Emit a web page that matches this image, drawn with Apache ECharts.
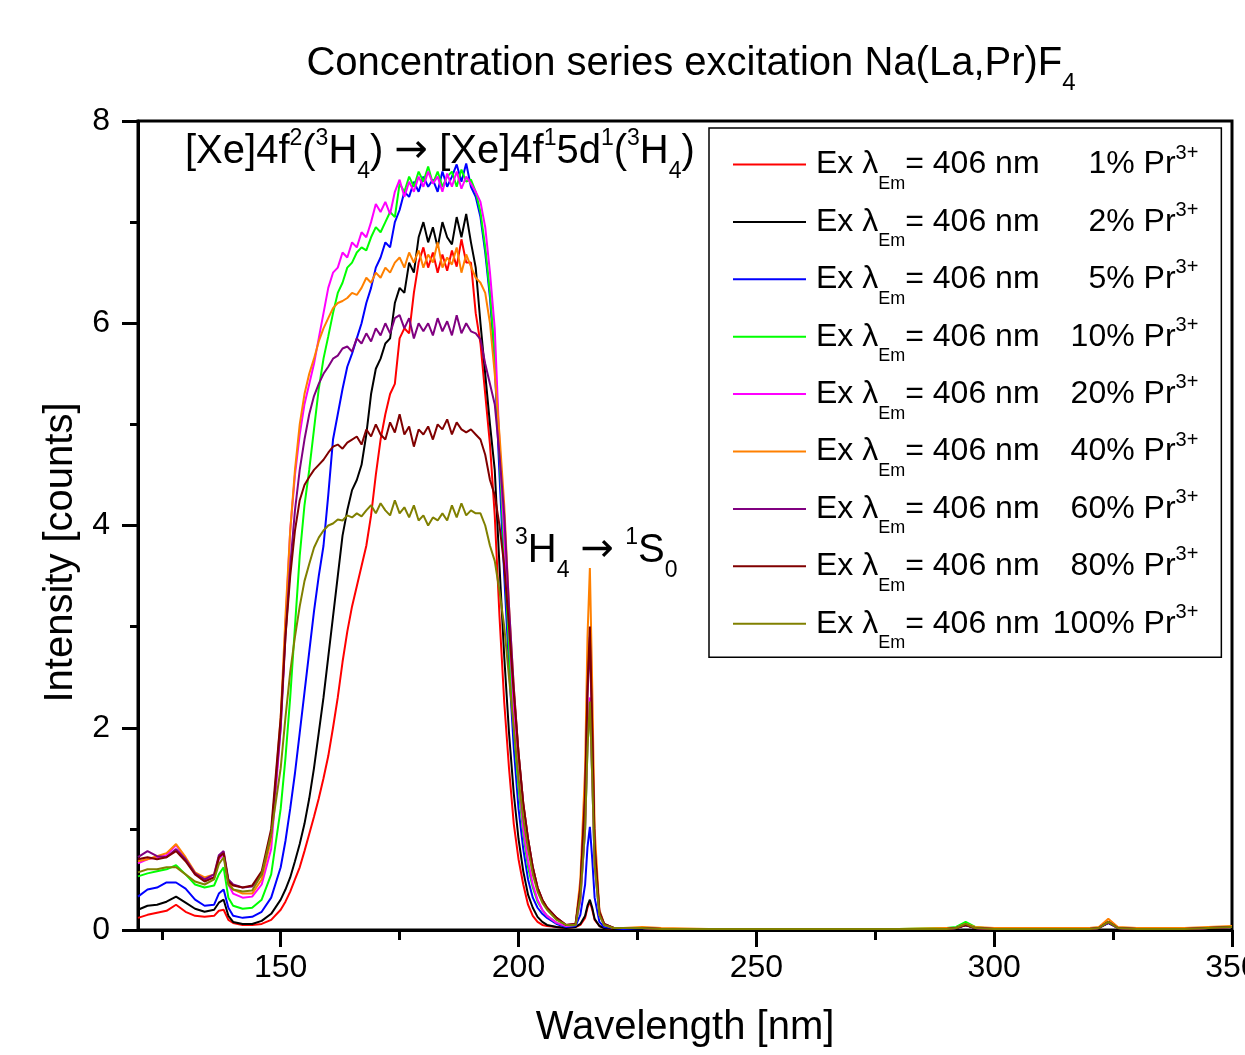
<!DOCTYPE html>
<html>
<head>
<meta charset="utf-8">
<title>Concentration series excitation Na(La,Pr)F4</title>
<script src="https://cdn.jsdelivr.net/npm/echarts@6/dist/echarts.min.js"></script>
<style>
  html, body { margin: 0; padding: 0; background: #fff; }
  #chart { width: 1245px; height: 1055px; }
</style>
</head>
<body>
<div id="chart"></div>
<script>
// wavelength grid [nm]
const wl = [120,122,124,126,128,130,132,134,136,137,138,139,140,142,144,146,148,
  150,151,152,153,154,155,156,157,158,159,160,161,162,163,164,165,166,167,168,169,
  170,171,172,173,174,175,176,177,178,179,180,181,182,183,184,185,186,187,188,189,
  190,191,192,193,194,195,196,197,198,199,200,
  201,202,203,204,205,206,208,210,
  212,213,214,214.5,215,215.5,216,217,218,
  220,222,226,230,240,250,260,270,280,290,292,294,296,300,310,320,322,324,326,330,340,345,350];

// intensity [counts] per Pr concentration
const pr1 = [0.12,0.15,0.17,0.19,0.25,0.18,0.14,0.13,0.14,0.19,0.2,0.1,0.07,0.05,0.05,0.06,0.1,
  0.2,0.28,0.38,0.5,0.62,0.78,0.95,1.12,1.3,1.5,
  1.72,2.0,2.3,2.65,2.95,3.2,3.4,3.6,3.8,4.1,
  4.5,4.85,5.1,5.3,5.4,5.85,5.95,5.9,6.3,6.6,
  6.75,6.55,6.7,6.5,6.68,6.52,6.72,6.56,6.83,6.6,
  6.6,6.1,5.8,5.3,4.8,4.1,3.1,2.25,1.6,1.05,0.7,
  0.45,0.25,0.14,0.08,0.05,0.04,0.03,0.02,
  0.03,0.05,0.12,0.22,0.28,0.2,0.1,0.04,0.02,
  0.01,0.01,0.02,0.01,0.01,0.01,0.01,0.01,0.01,0.01,0.02,0.05,0.02,0.01,0.01,0.01,0.02,0.07,0.02,0.01,0.01,0.02,0.03];

const pr2 = [0.2,0.24,0.25,0.28,0.33,0.27,0.21,0.18,0.2,0.27,0.3,0.14,0.08,0.06,0.06,0.09,0.16,
  0.3,0.4,0.52,0.68,0.85,1.05,1.3,1.6,1.95,2.3,
  2.7,3.1,3.5,3.9,4.15,4.35,4.45,4.6,4.9,5.3,
  5.55,5.65,5.8,5.85,6.2,6.35,6.3,6.6,6.5,6.85,
  7.0,6.8,6.95,6.75,7.0,6.85,6.78,7.05,6.85,7.08,
  6.8,6.55,6.0,5.5,5.0,4.55,3.6,2.7,1.95,1.35,0.9,
  0.58,0.35,0.22,0.13,0.08,0.05,0.03,0.02,
  0.03,0.06,0.14,0.24,0.3,0.22,0.11,0.04,0.02,
  0.01,0.01,0.01,0.01,0.01,0.01,0.01,0.01,0.01,0.01,0.02,0.05,0.02,0.01,0.01,0.01,0.02,0.07,0.02,0.01,0.01,0.02,0.03];

const pr5 = [0.33,0.4,0.42,0.47,0.47,0.41,0.3,0.24,0.25,0.36,0.4,0.22,0.14,0.12,0.13,0.18,0.32,
  0.62,0.88,1.2,1.55,1.95,2.35,2.75,3.15,3.5,3.8,
  4.3,4.85,5.1,5.35,5.57,5.7,5.85,6.0,6.2,6.35,
  6.55,6.65,6.8,6.75,7.0,7.12,7.3,7.25,7.4,7.3,
  7.45,7.35,7.42,7.3,7.5,7.35,7.45,7.57,7.4,7.58,
  7.35,7.25,7.05,6.7,6.25,5.6,4.5,3.5,2.6,1.8,1.2,
  0.8,0.5,0.32,0.22,0.16,0.12,0.06,0.03,
  0.04,0.15,0.45,0.82,1.02,0.7,0.32,0.08,0.03,
  0.02,0.01,0.02,0.01,0.01,0.01,0.01,0.01,0.01,0.01,0.02,0.05,0.02,0.01,0.01,0.01,0.02,0.07,0.02,0.01,0.01,0.02,0.03];

const pr10 = [0.53,0.56,0.58,0.6,0.64,0.55,0.45,0.42,0.44,0.55,0.62,0.32,0.24,0.21,0.22,0.3,0.55,
  1.2,1.7,2.3,3.0,3.7,4.2,4.55,4.95,5.35,5.65,
  5.87,6.1,6.3,6.4,6.55,6.6,6.7,6.75,6.72,6.85,
  6.95,6.9,7.0,7.1,7.05,7.38,7.3,7.45,7.35,7.5,
  7.4,7.55,7.38,7.5,7.35,7.45,7.5,7.35,7.52,7.4,
  7.42,7.3,7.1,6.75,6.3,5.7,4.7,3.7,2.8,2.0,1.4,
  0.95,0.62,0.42,0.28,0.2,0.14,0.07,0.04,
  0.05,0.3,1.0,1.8,2.25,1.5,0.65,0.15,0.05,
  0.02,0.02,0.02,0.01,0.01,0.01,0.01,0.01,0.01,0.02,0.03,0.08,0.03,0.01,0.01,0.01,0.02,0.08,0.02,0.01,0.01,0.02,0.03];

const pr20 = [0.66,0.7,0.72,0.74,0.84,0.7,0.55,0.5,0.52,0.7,0.75,0.45,0.36,0.32,0.33,0.45,0.8,
  2.0,3.0,3.95,4.5,4.9,5.2,5.4,5.6,5.85,6.1,
  6.35,6.5,6.55,6.7,6.65,6.8,6.75,6.9,6.85,7.0,
  7.18,7.1,7.2,7.08,7.3,7.42,7.25,7.4,7.3,7.45,
  7.35,7.5,7.38,7.45,7.3,7.48,7.35,7.5,7.33,7.45,
  7.38,7.3,7.2,6.95,6.5,5.95,4.8,3.9,3.0,2.2,1.5,
  1.0,0.68,0.45,0.3,0.2,0.14,0.07,0.04,
  0.05,0.3,1.0,1.85,2.3,1.5,0.65,0.15,0.05,
  0.02,0.02,0.02,0.01,0.01,0.01,0.01,0.01,0.01,0.01,0.02,0.06,0.02,0.01,0.01,0.01,0.02,0.08,0.02,0.01,0.01,0.02,0.03];

const pr40 = [0.68,0.7,0.73,0.76,0.85,0.72,0.57,0.52,0.55,0.72,0.77,0.48,0.4,0.36,0.36,0.5,0.9,
  2.1,3.1,3.95,4.55,5.0,5.3,5.5,5.65,5.82,5.95,
  6.05,6.15,6.2,6.22,6.25,6.3,6.28,6.35,6.45,6.4,
  6.5,6.45,6.55,6.5,6.6,6.65,6.55,6.7,6.6,6.72,
  6.55,6.68,6.6,6.8,6.55,6.65,6.58,6.75,6.5,6.68,
  6.56,6.45,6.4,6.3,6.0,5.5,4.9,4.2,3.2,2.4,1.75,
  1.25,0.9,0.62,0.42,0.3,0.22,0.12,0.05,
  0.06,0.5,1.6,2.9,3.58,2.4,1.0,0.2,0.06,
  0.02,0.02,0.03,0.02,0.01,0.01,0.01,0.01,0.01,0.02,0.02,0.06,0.03,0.02,0.02,0.02,0.03,0.11,0.03,0.02,0.02,0.03,0.04];

const pr60 = [0.72,0.78,0.73,0.72,0.8,0.7,0.56,0.5,0.55,0.74,0.78,0.5,0.45,0.42,0.43,0.55,0.95,
  2.0,2.9,3.6,4.15,4.55,4.85,5.1,5.28,5.4,5.5,
  5.57,5.65,5.68,5.75,5.77,5.72,5.85,5.8,5.9,5.82,
  5.95,5.88,6.0,5.9,6.05,6.08,5.95,6.05,5.85,6.0,
  5.92,6.0,5.88,6.05,5.92,6.02,5.88,6.08,5.9,6.0,
  5.92,5.9,5.84,5.6,5.4,5.2,4.7,4.1,3.2,2.4,1.75,
  1.25,0.9,0.62,0.42,0.3,0.22,0.12,0.05,
  0.06,0.4,1.3,2.3,2.9,1.9,0.8,0.18,0.06,
  0.02,0.02,0.02,0.01,0.01,0.01,0.01,0.01,0.01,0.01,0.02,0.05,0.02,0.01,0.01,0.01,0.02,0.08,0.02,0.01,0.01,0.02,0.03];

const pr80 = [0.7,0.72,0.7,0.72,0.78,0.68,0.55,0.48,0.52,0.72,0.76,0.48,0.44,0.42,0.44,0.58,1.0,
  2.1,2.9,3.5,3.95,4.25,4.4,4.48,4.55,4.6,4.65,
  4.72,4.78,4.8,4.76,4.82,4.85,4.88,4.8,4.95,4.88,
  5.0,4.9,4.85,5.02,4.92,5.1,4.9,4.98,4.78,4.95,
  4.9,4.98,4.85,5.0,4.95,5.05,4.9,5.02,4.95,4.92,
  4.95,4.9,4.85,4.7,4.45,4.3,4.0,3.6,3.0,2.35,1.75,
  1.25,0.9,0.62,0.42,0.3,0.22,0.12,0.05,
  0.06,0.42,1.35,2.4,3.0,2.0,0.85,0.18,0.06,
  0.02,0.02,0.02,0.01,0.01,0.01,0.01,0.01,0.01,0.01,0.02,0.05,0.02,0.01,0.01,0.01,0.02,0.08,0.02,0.01,0.01,0.02,0.03];

const pr100 = [0.57,0.6,0.6,0.62,0.62,0.55,0.48,0.45,0.5,0.65,0.72,0.45,0.4,0.38,0.39,0.55,0.95,
  1.6,2.1,2.55,2.9,3.2,3.45,3.62,3.78,3.88,3.95,
  4.0,4.02,4.06,4.05,4.1,4.08,4.12,4.09,4.15,4.2,
  4.12,4.22,4.15,4.1,4.25,4.12,4.18,4.08,4.2,4.05,
  4.1,4.0,4.08,4.05,4.12,4.05,4.2,4.08,4.22,4.1,
  4.15,4.12,4.12,4.0,3.8,3.65,3.35,3.0,2.5,2.0,1.5,
  1.1,0.8,0.55,0.38,0.27,0.2,0.1,0.05,
  0.05,0.33,1.0,1.8,2.26,1.5,0.65,0.15,0.05,
  0.02,0.02,0.02,0.01,0.01,0.01,0.01,0.01,0.01,0.01,0.02,0.06,0.02,0.01,0.01,0.01,0.02,0.08,0.02,0.01,0.01,0.02,0.03];

const seriesNames = ['1%', '2%', '5%', '10%', '20%', '40%', '60%', '80%', '100%'];
const seriesData = [pr1, pr2, pr5, pr10, pr20, pr40, pr60, pr80, pr100];
const colors = ['#ff0000', '#000000', '#0000ff', '#00ff00', '#ff00ff', '#ff8000', '#800080', '#800000', '#808000'];

const xMajor = [150, 200, 250, 300, 350];
const xMinor = [125, 175, 225, 275, 325];

const FONT = '"Liberation Sans", Arial, Helvetica, sans-serif';
const ARROW_FONT = '"DejaVu Sans", sans-serif';

let myChart = echarts.init(document.getElementById('chart'), null, { renderer: 'canvas' });

// rich styles for the annotations (super/subscripts)
const annRich = {
  m: { fontSize: 40, lineHeight: 50, fontFamily: FONT, color: '#000' },
  r: { fontSize: 40, lineHeight: 50, fontFamily: ARROW_FONT, color: '#000' },
  u: { fontSize: 23, height: 23, verticalAlign: 'top', fontFamily: FONT, color: '#000' },
  d: { fontSize: 23, height: 10, verticalAlign: 'bottom', fontFamily: FONT, color: '#000' }
};

let series = seriesData.map((arr, k) => ({
  name: seriesNames[k],
  type: 'line',
  data: wl.map((x, i) => [x, arr[i]]),
  showSymbol: false,
  symbol: 'none',
  smooth: false,
  lineStyle: { width: 2, color: colors[k] },
  itemStyle: { color: colors[k] },
  emphasis: { disabled: true }
}));

let option = {
  animation: false,
  backgroundColor: '#fff',
  color: colors,
  textStyle: { fontFamily: FONT },
  title: {
    text: '{a|Concentration series excitation Na(La,Pr)F}{s|4}',
    left: 686,
    top: 34,
    textAlign: 'center',
    textStyle: {
      fontWeight: 'normal',
      rich: {
        a: { fontSize: 40, lineHeight: 50, fontWeight: 'normal', fontFamily: FONT, color: '#000' },
        s: { fontSize: 24, height: 11, verticalAlign: 'bottom', fontWeight: 'normal', fontFamily: FONT, color: '#000' }
      }
    }
  },
  grid: {
    left: 138, right: 13, top: 121, bottom: 125,
    outerBoundsMode: 'none',
    containLabel: false,
    show: true, borderColor: '#000', borderWidth: 3
  },
  legend: {
    orient: 'vertical',
    left: 709,
    top: 128,
    padding: [15, 23, 5, 24],
    itemGap: 7.4,
    itemWidth: 73,
    itemHeight: 2,
    icon: 'rect',
    borderColor: '#000',
    borderWidth: 1.5,
    backgroundColor: '#fff',
    data: seriesNames,
    formatter: name => '{a|Ex λ}{s|Em}{b|= 406 nm}{p|' + name + ' Pr}{u|3+}',
    textStyle: {
      rich: {
        a: { fontSize: 32, lineHeight: 48, padding: [0, 0, 0, 5], fontFamily: FONT, color: '#000' },
        s: { fontSize: 18, height: 9, verticalAlign: 'bottom', fontFamily: FONT, color: '#000' },
        b: { fontSize: 32, lineHeight: 48, fontFamily: FONT, color: '#000' },
        p: { fontSize: 32, lineHeight: 48, width: 136, align: 'right', fontFamily: FONT, color: '#000' },
        u: { fontSize: 20, height: 25, verticalAlign: 'top', align: 'right', fontFamily: FONT, color: '#000' }
      }
    }
  },
  xAxis: [{
    type: 'value',
    min: 120,
    max: 350,
    name: 'Wavelength [nm]',
    nameLocation: 'middle',
    nameGap: 78,
    nameTextStyle: { fontSize: 40, color: '#000', fontFamily: FONT },
    axisLine: { lineStyle: { color: '#000', width: 3 } },
    axisTick: { customValues: xMajor, length: 17, lineStyle: { color: '#000', width: 3 } },
    axisLabel: { customValues: xMajor, fontSize: 32, color: '#000', margin: 22, fontFamily: FONT },
    splitLine: { show: false }
  }, {
    // minor ticks
    type: 'value',
    min: 120,
    max: 350,
    position: 'bottom',
    axisLine: { show: false },
    axisTick: { customValues: xMinor, length: 10, lineStyle: { color: '#000', width: 3 } },
    axisLabel: { show: false },
    splitLine: { show: false }
  }],
  yAxis: {
    type: 'value',
    min: 0,
    max: 8,
    interval: 2,
    name: 'Intensity [counts]',
    nameLocation: 'middle',
    nameGap: 56,
    nameRotate: 90,
    nameTextStyle: { fontSize: 40, color: '#000', fontFamily: FONT, padding: [0, 54, 0, 0] },
    axisLine: { show: true, lineStyle: { color: '#000', width: 3 } },
    axisTick: { show: true, length: 16, lineStyle: { color: '#000', width: 3 } },
    minorTick: { show: true, splitNumber: 2, length: 8, lineStyle: { color: '#000', width: 3 } },
    axisLabel: { fontSize: 32, color: '#000', margin: 28, fontFamily: FONT },
    splitLine: { show: false }
  },
  graphic: [{
    type: 'text',
    left: 185,
    top: 127,
    style: {
      text: '{m|[Xe]4f}{u|2}{m|(}{u|3}{m|H}{d|4}{m|) }{r|→}{m| [Xe]4f}{u|1}{m|5d}{u|1}{m|(}{u|3}{m|H}{d|4}{m|)}',
      rich: annRich
    }
  }, {
    type: 'text',
    left: 515,
    top: 526,
    style: {
      text: '{u|3}{m|H}{d|4}{m| }{r|→}{m| }{u|1}{m|S}{d|0}',
      rich: annRich
    }
  }],
  series
};

myChart.setOption(option);
</script>
</body>
</html>
